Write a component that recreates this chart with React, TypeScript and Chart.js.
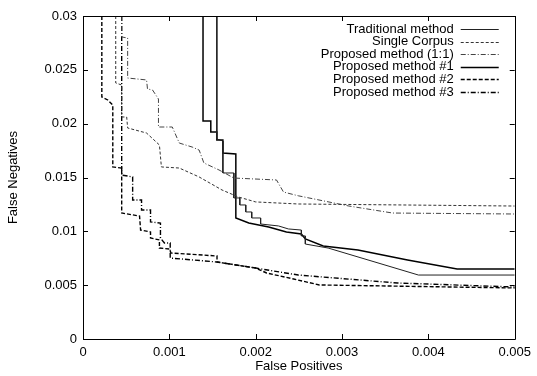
import React, { useEffect, useRef } from 'react';
import { Chart, registerables } from 'chart.js';

Chart.register(...registerables);

const xTickValues = [0, 0.001, 0.002, 0.003, 0.004, 0.005];
const xTickLabels = ['0', '0.001', '0.002', '0.003', '0.004', '0.005'];
const yTickValues = [0, 0.005, 0.01, 0.015, 0.02, 0.025, 0.03];
const yTickLabels = ['0', '0.005', '0.01', '0.015', '0.02', '0.025', '0.03'];

const seriesNames = [
  'Traditional method',
  'Single Corpus',
  'Proposed method (1:1)',
  'Proposed method #1',
  'Proposed method #2',
  'Proposed method #3',
];

const traditionalX = [0.00155, 0.00155, 0.00162, 0.00162, 0.001747, 0.001747, 0.001816, 0.001816, 0.001885, 0.001885, 0.001954, 0.001954, 0.002057, 0.002057, 0.002264, 0.002379, 0.002529, 0.002529, 0.002575, 0.002575, 0.002839, 0.003885, 0.005];
const traditionalY = [0.03, 0.01858, 0.01839, 0.01542, 0.01542, 0.0131, 0.0131, 0.01245, 0.01245, 0.0118, 0.0118, 0.01124, 0.01124, 0.01068, 0.0105, 0.01022, 0.01012, 0.00957, 0.00957, 0.00882, 0.00845, 0.00594, 0.00594];

const singleX = [0.000379, 0.000379, 0.000448, 0.000448, 0.000506, 0.000517, 0.000736, 0.000885, 0.000908, 0.001115, 0.001345, 0.00161, 0.0018, 0.002, 0.002494, 0.005];
const singleY = [0.03, 0.02378, 0.02359, 0.02062, 0.02062, 0.0196, 0.01913, 0.01802, 0.01598, 0.01588, 0.01505, 0.01384, 0.01319, 0.01273, 0.01254, 0.01235];

const oneToOneX = [0.000448, 0.000448, 0.000517, 0.000517, 0.000736, 0.000747, 0.000805, 0.000874, 0.000874, 0.001034, 0.001115, 0.001264, 0.001345, 0.0014, 0.001575, 0.001747, 0.002241, 0.002322, 0.002494, 0.00308, 0.003586, 0.005];
const oneToOneY = [0.03, 0.02805, 0.02796, 0.02424, 0.02406, 0.02322, 0.02313, 0.02229, 0.01969, 0.01969, 0.0182, 0.01783, 0.01755, 0.01635, 0.0157, 0.01495, 0.01477, 0.01365, 0.0133, 0.01235, 0.0117, 0.01161];

const method1X = [0.00139, 0.00139, 0.00148, 0.00148, 0.00155, 0.00155, 0.00162, 0.00162, 0.00177, 0.00177, 0.00192, 0.00215, 0.002356, 0.002529, 0.002575, 0.002782, 0.003184, 0.003759, 0.004333, 0.005];
const method1Y = [0.03, 0.02025, 0.02025, 0.01923, 0.01923, 0.01848, 0.01848, 0.01728, 0.01718, 0.01124, 0.01077, 0.0104, 0.00994, 0.00975, 0.00929, 0.00864, 0.00827, 0.00734, 0.0065, 0.0065];

const method2X = [0.000218, 0.000218, 0.000287, 0.000345, 0.000345, 0.000448, 0.000448, 0.000655, 0.000667, 0.000782, 0.000782, 0.000885, 0.000885, 0.001, 0.00102, 0.001552, 0.001552, 0.002, 0.002126, 0.00244, 0.002736, 0.005];
const method2Y = [0.03, 0.02248, 0.0222, 0.02173, 0.01598, 0.01588, 0.0117, 0.01142, 0.01012, 0.00994, 0.00938, 0.0092, 0.00845, 0.00836, 0.00799, 0.00771, 0.00715, 0.00659, 0.00613, 0.00557, 0.00502, 0.00474];

const method3X = [0.000448, 0.000448, 0.000575, 0.000575, 0.000678, 0.000678, 0.000782, 0.000782, 0.000897, 0.000897, 0.000943, 0.00101, 0.00101, 0.001552, 0.002, 0.002494, 0.003644, 0.005];
const method3Y = [0.03, 0.01523, 0.01505, 0.01291, 0.01291, 0.01198, 0.01198, 0.01087, 0.01077, 0.00938, 0.00892, 0.00892, 0.00752, 0.00715, 0.00659, 0.00594, 0.0052, 0.00483];

const seriesX = [traditionalX, singleX, oneToOneX, method1X, method2X, method3X];
const seriesY = [traditionalY, singleY, oneToOneY, method1Y, method2Y, method3Y];

const lineWidths = [1, 1, 1, 1.5, 1.4, 1.4];
const lineDashes: number[][] = [[], [3, 2], [5, 2, 1, 2], [], [4, 2], [5, 2, 1, 2]];
const lineColors = ['#222', '#333', '#444', '#000', '#000', '#000'];

const FONT = '"Liberation Sans", Arial, Helvetica, sans-serif';

const framePlugin = {
  id: 'frameTicksLegend',
  afterDatasetsDraw(chart: any) {
    const { ctx, chartArea } = chart;
    const { left, right, top, bottom } = chartArea;
    const xs = chart.scales.x;
    const ys = chart.scales.y;
    ctx.save();
    ctx.strokeStyle = '#000';
    ctx.lineWidth = 1;
    ctx.setLineDash([]);
    ctx.beginPath();
    ctx.rect(Math.round(left) + 0.5, Math.round(top) + 0.5, Math.round(right - left), Math.round(bottom - top));
    ctx.stroke();
    const tl = 5;
    ctx.beginPath();
    xTickValues.forEach((v) => {
      const px = Math.round(xs.getPixelForValue(v)) + 0.5;
      ctx.moveTo(px, bottom);
      ctx.lineTo(px, bottom - tl);
      ctx.moveTo(px, top);
      ctx.lineTo(px, top + tl);
    });
    yTickValues.forEach((v) => {
      const py = Math.round(ys.getPixelForValue(v)) + 0.5;
      ctx.moveTo(left, py);
      ctx.lineTo(left + tl, py);
      ctx.moveTo(right, py);
      ctx.lineTo(right - tl, py);
    });
    ctx.stroke();

    // legend
    ctx.font = `13px ${FONT}`;
    ctx.fillStyle = '#000';
    ctx.textAlign = 'right';
    ctx.textBaseline = 'middle';
    chart.data.datasets.forEach((ds: any, i: number) => {
      const y = top + 13 + i * 12.6;
      ctx.fillText(ds.label, right - 61, y);
      ctx.beginPath();
      ctx.strokeStyle = ds.borderColor;
      ctx.lineWidth = ds.borderWidth;
      ctx.setLineDash(ds.borderDash || []);
      ctx.moveTo(right - 54, Math.round(y) + 0.5);
      ctx.lineTo(right - 16, Math.round(y) + 0.5);
      ctx.stroke();
    });
    ctx.restore();
  },
};

export default function App() {
  const canvasRef = useRef<HTMLCanvasElement | null>(null);

  useEffect(() => {
    document.body.style.margin = '0';
    const canvas = canvasRef.current;
    if (!canvas) return;
    const datasets = seriesNames.map((name, i) => ({
      label: name,
      data: seriesX[i].map((x, j) => ({ x, y: seriesY[i][j] })),
      showLine: true,
      pointRadius: 0,
      borderColor: lineColors[i],
      borderWidth: lineWidths[i],
      borderDash: lineDashes[i],
      fill: false,
      tension: 0,
    }));
    const chart = new Chart(canvas, {
      type: 'scatter',
      data: { datasets },
      options: {
        animation: false,
        responsive: false,
        devicePixelRatio: 1,
        layout: { padding: { top: 16, right: 18, left: 0, bottom: 0 } },
        plugins: { legend: { display: false }, tooltip: { enabled: false } },
        scales: {
          x: {
            type: 'linear',
            min: 0,
            max: 0.005,
            afterBuildTicks: (scale: any) => {
              scale.ticks = xTickValues.map((v) => ({ value: v }));
            },
            afterFit: (scale: any) => {
              scale.height = 37;
            },
            ticks: {
              padding: 6,
              color: '#000',
              font: { family: FONT, size: 13 },
              maxRotation: 0,
              callback: (_v: any, i: number) => xTickLabels[i],
            },
            grid: { display: false, drawTicks: false },
            border: { display: false },
            title: {
              display: true,
              text: 'False Positives',
              color: '#000',
              font: { family: FONT, size: 13 },
              padding: { top: 0, bottom: 2 },
            },
          },
          y: {
            type: 'linear',
            min: 0,
            max: 0.03,
            afterBuildTicks: (scale: any) => {
              scale.ticks = yTickValues.map((v) => ({ value: v }));
            },
            afterFit: (scale: any) => {
              scale.width = 83;
            },
            ticks: {
              padding: 6,
              color: '#000',
              font: { family: FONT, size: 13 },
              callback: (_v: any, i: number) => yTickLabels[i],
            },
            grid: { display: false, drawTicks: false },
            border: { display: false },
            title: {
              display: true,
              text: 'False Negatives',
              color: '#000',
              font: { family: FONT, size: 13 },
              padding: { top: 6, bottom: 0 },
            },
          },
        },
      },
      plugins: [framePlugin],
    } as any);
    return () => chart.destroy();
  }, []);

  return (
    <div style={{ width: 537, height: 376 }}>
      <canvas ref={canvasRef} width={537} height={376} />
    </div>
  );
}
